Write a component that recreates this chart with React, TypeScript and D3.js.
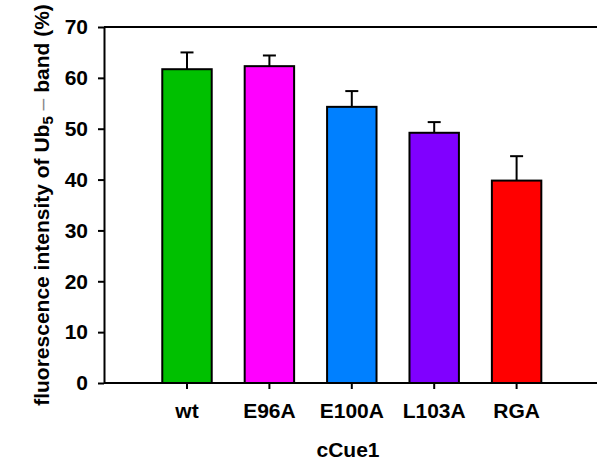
import React, {useEffect, useRef} from 'react';
import * as d3 from 'd3';

const categories = ['wt', 'E96A', 'E100A', 'L103A', 'RGA'];
const values = [61.7, 62.3, 54.3, 49.2, 39.8];
const errors = [3.3, 2.1, 3.1, 2.1, 4.8];
const colors = ['#00C000', '#FF00FF', '#0080FF', '#8000FF', '#FF0000'];
const yTicks = [0, 10, 20, 30, 40, 50, 60, 70];

export default function App() {
    const svgRef = useRef<SVGSVGElement>(null);

    useEffect(() => {
        const svg = d3.select(svgRef.current);
        svg.selectAll('*').remove();

        const left = 104, top = 27, bottom = 383, right = 620;
        const font = 'Arial, "Liberation Sans", sans-serif';

        const xScale = d3.scaleBand()
            .domain(categories)
            .range([145.8, 557.8])
            .paddingInner(0.4)
            .paddingOuter(0.2);

        const yScale = d3.scaleLinear()
            .domain([0, 70])
            .range([bottom, top]);

        // bars
        svg.selectAll('.bar')
            .data(categories)
            .enter()
            .append('rect')
            .attr('class', 'bar')
            .attr('x', d => xScale(d)!)
            .attr('y', (d, i) => yScale(values[i]))
            .attr('width', xScale.bandwidth())
            .attr('height', (d, i) => bottom - yScale(values[i]))
            .attr('fill', (d, i) => colors[i])
            .attr('stroke', '#000')
            .attr('stroke-width', 2);

        // error bars (upper only)
        const err = svg.append('g').attr('stroke', '#000').attr('stroke-width', 2);
        categories.forEach((c, i) => {
            const cx = xScale(c)! + xScale.bandwidth() / 2;
            err.append('line')
                .attr('x1', cx).attr('x2', cx)
                .attr('y1', yScale(values[i])).attr('y2', yScale(values[i] + errors[i]));
            err.append('line')
                .attr('x1', cx - 6.5).attr('x2', cx + 6.5)
                .attr('y1', yScale(values[i] + errors[i])).attr('y2', yScale(values[i] + errors[i]));
        });

        // frame
        svg.append('line')
            .attr('x1', left).attr('x2', right)
            .attr('y1', top).attr('y2', top)
            .attr('stroke', '#000').attr('stroke-width', 2);

        // y axis
        const yAxis = svg.append('g')
            .attr('transform', `translate(${left},0)`)
            .call(d3.axisLeft(yScale).tickValues(yTicks).tickSize(6).tickSizeOuter(0).tickPadding(10));
        yAxis.select('.domain').attr('stroke-width', 2);
        yAxis.selectAll('.tick line').attr('stroke-width', 2);
        yAxis.selectAll('text')
            .attr('font-family', font)
            .attr('font-size', '21px')
            .attr('font-weight', 'bold')
            .attr('fill', '#000');

        // x axis
        const xAxis = svg.append('g')
            .attr('transform', `translate(0,${bottom})`)
            .call(d3.axisBottom(xScale).tickSize(6).tickSizeOuter(0).tickPadding(14));
        xAxis.select('.domain').attr('d', `M${left},0H${right}`).attr('stroke-width', 2);
        xAxis.selectAll('.tick line').attr('stroke-width', 2);
        xAxis.selectAll('text')
            .attr('font-family', font)
            .attr('font-size', '21px')
            .attr('font-weight', 'bold')
            .attr('fill', '#000');

        svg.append('text')
            .attr('x', 348)
            .attr('y', 457)
            .attr('text-anchor', 'middle')
            .attr('font-family', font)
            .attr('font-size', '21px')
            .attr('font-weight', 'bold')
            .text('cCue1');

        const yTitle = svg.append('text')
            .attr('transform', `translate(49,205) rotate(-90)`)
            .attr('text-anchor', 'middle')
            .attr('font-family', font)
            .attr('font-size', '21px')
            .attr('font-weight', 'bold');
        yTitle.append('tspan').text('fluorescence intensity of Ub');
        yTitle.append('tspan').attr('font-size', '15px').attr('dy', 4).text('5');
        yTitle.append('tspan').attr('dy', -4).attr('font-weight', 'normal').attr('fill', '#888').text(' \u2013 ');
        yTitle.append('tspan').text('band (%)');
    }, []);

    return (
        <svg ref={svgRef} width={597} height={461}
             style={{position: 'absolute', left: 0, top: 0, background: '#fff'}}></svg>
    );
}
